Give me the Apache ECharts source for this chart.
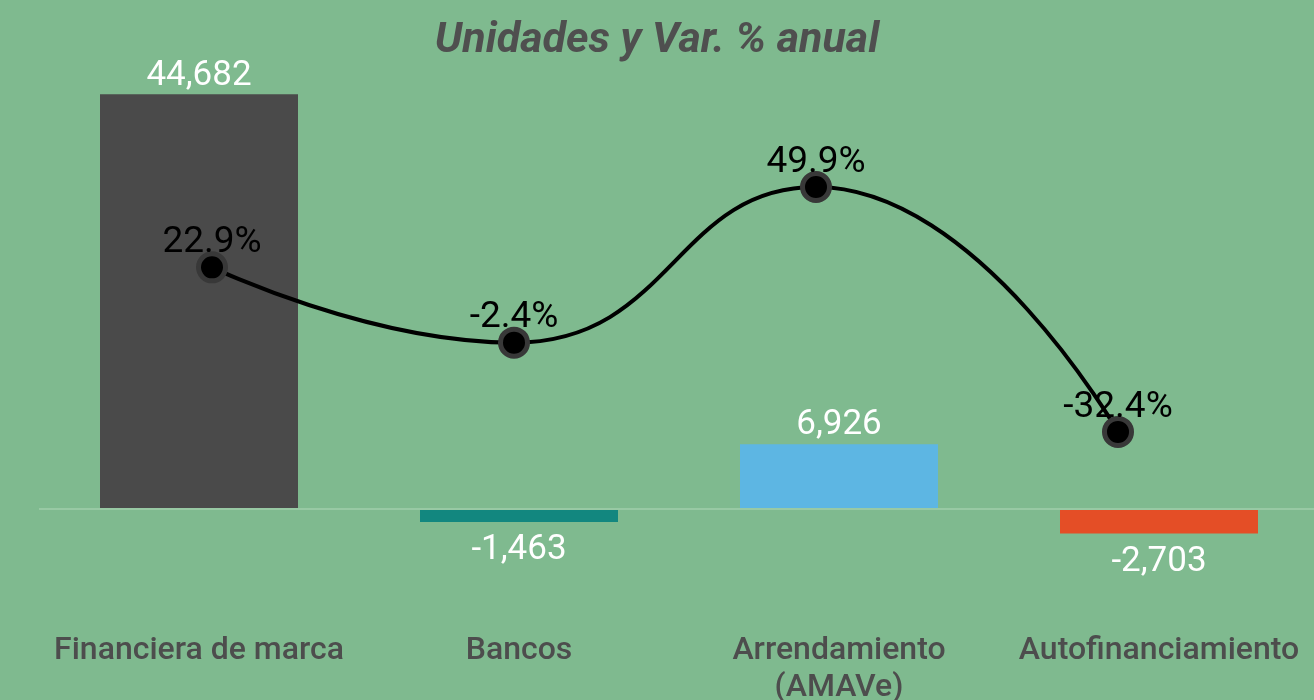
<!DOCTYPE html>
<html>
<head>
<meta charset="utf-8">
<script src="https://cdn.jsdelivr.net/npm/echarts@6/dist/echarts.min.js"></script>
<style>
  html, body { margin: 0; padding: 0; background: #7fba8f; }
  #chart { width: 1314px; height: 700px; }
</style>
</head>
<body>
<div id="chart"></div>
<script>
const categories = ['Financiera de marca', 'Bancos', 'Arrendamiento\n(AMAVe)', 'Autofinanciamiento']
const unidades = [44682, -1463, 6926, -2703]
const varAnual = [22.9, -2.4, 49.9, -32.4]
const barColors = ['#4a4a4a', '#12877f', '#5db6e3', '#e44e26']

const chart = echarts.init(document.getElementById('chart'))

chart.setOption({
  backgroundColor: '#7fba8f',
  animation: false,
  title: {
    text: 'Unidades y Var. % anual',
    left: 'center',
    top: 15,
    textStyle: {
      color: '#4f4f4f',
      fontFamily: 'Roboto',
      fontStyle: 'italic',
      fontWeight: 'bold',
      fontSize: 43
    }
  },
  grid: [
    { left: 39, width: 1280, top: 45, height: 556, outerBoundsMode: 'none' },
    { left: 61, width: 1208, top: 157, height: 357, outerBoundsMode: 'none' }
  ],
  xAxis: [{
    type: 'category',
    gridIndex: 0,
    position: 'bottom',
    data: categories,
    axisTick: { show: false },
    axisLine: { show: false, onZero: false },
    axisLabel: {
      interval: 0,
      margin: 31,
      color: '#4d4d4d',
      fontFamily: 'Roboto',
      fontWeight: 500,
      fontSize: 32,
      lineHeight: 37
    }
  }, {
    type: 'category',
    gridIndex: 1,
    data: categories,
    show: false
  }],
  yAxis: [{
    type: 'value',
    gridIndex: 0,
    min: -10000,
    max: 50000,
    show: false,
    splitLine: { show: false }
  }, {
    type: 'value',
    gridIndex: 1,
    min: -60,
    max: 60,
    show: false,
    splitLine: { show: false }
  }],
  series: [{
    name: 'Unidades',
    type: 'bar',
    xAxisIndex: 0,
    yAxisIndex: 0,
    barWidth: 198,
    data: unidades.map((v, i) => ({
      value: v,
      itemStyle: { color: barColors[i] },
      label: { position: v < 0 ? 'bottom' : 'top', distance: v < 0 ? 11 : 1 }
    })),
    label: {
      show: true,
      color: '#ffffff',
      fontFamily: 'Roboto',
      fontSize: 35,
      formatter: p => p.value.toLocaleString('en-US')
    },
    markLine: {
      silent: true,
      symbol: 'none',
      label: { show: false },
      lineStyle: { color: '#98c9a4', width: 2, type: 'solid' },
      data: [{ yAxis: 0 }]
    },
    z: 2
  }, {
    name: 'Var. % anual',
    type: 'line',
    xAxisIndex: 1,
    yAxisIndex: 1,
    data: varAnual,
    smooth: true,
    symbol: 'circle',
    symbolSize: 27,
    lineStyle: { color: '#000000', width: 4 },
    itemStyle: { color: '#000000', borderColor: '#383838', borderWidth: 5 },
    label: {
      show: true,
      position: 'top',
      distance: -10,
      color: '#000000',
      fontFamily: 'Roboto',
      fontSize: 37,
      formatter: p => p.value.toFixed(1) + '%'
    },
    z: 3
  }]
})
</script>
</body>
</html>
